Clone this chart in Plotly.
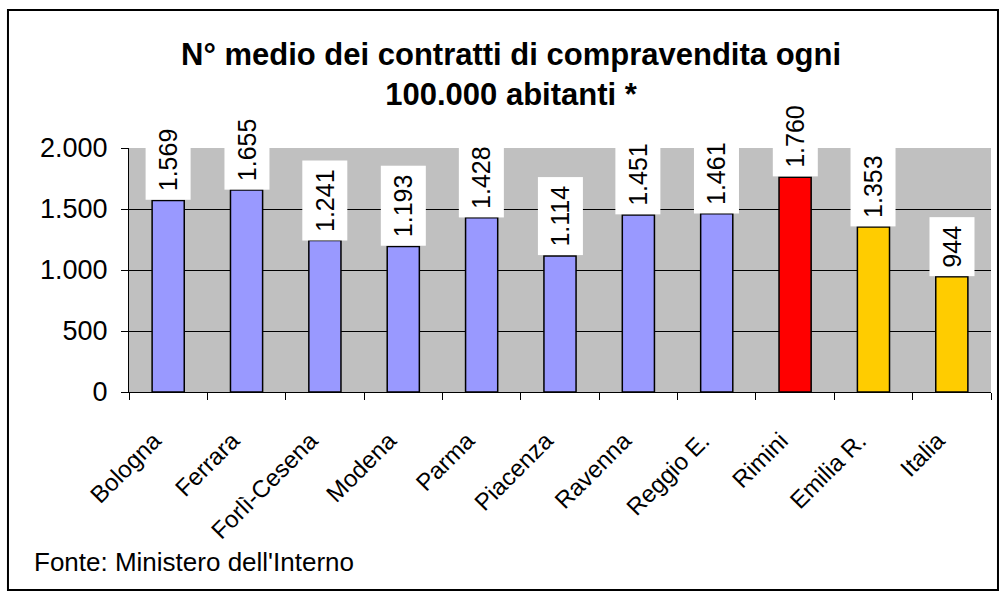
import plotly.graph_objects as go

categories = ["Bologna", "Ferrara", "Forlì-Cesena", "Modena", "Parma", "Piacenza",
              "Ravenna", "Reggio E.", "Rimini", "Emilia R.", "Italia"]
values = [1569, 1655, 1241, 1193, 1428, 1114, 1451, 1461, 1760, 1353, 944]
value_labels = ["1.569", "1.655", "1.241", "1.193", "1.428", "1.114",
                "1.451", "1.461", "1.760", "1.353", "944"]
colors = ["#9999FF"] * 8 + ["#FF0000", "#FFCC00", "#FFCC00"]
y_ticks = [0, 500, 1000, 1500, 2000]
y_tick_labels = ["0", "500", "1.000", "1.500", "2.000"]

FONT = "Liberation Sans, Arial, sans-serif"
PAD = "\u00a0" * 3  # pushes rotated category labels a little further down-left

fig = go.Figure()
fig.add_trace(go.Bar(
    x=categories, y=values, width=0.41,
    marker=dict(color=colors, line=dict(color="black", width=1.5)),
    hoverinfo="skip",
))

for c, v, lab in zip(categories, values, value_labels):
    fig.add_annotation(
        x=c, y=v, text=lab, textangle=-90, showarrow=False,
        xanchor="center", yanchor="bottom", bgcolor="white", borderpad=8,
        font=dict(family=FONT, size=25, color="black"),
    )

fig.add_annotation(
    xref="paper", yref="paper", x=-0.113, y=-0.697, xanchor="left", yanchor="middle",
    text="Fonte: Ministero dell'Interno", showarrow=False,
    font=dict(family=FONT, size=26, color="black"),
)

# outer chart border
fig.add_shape(type="rect", xref="paper", yref="paper",
              x0=-0.1404, x1=1.0081, y0=-0.8115, y1=1.5656,
              line=dict(color="black", width=2), layer="above")

fig.update_layout(
    width=1006, height=600,
    margin=dict(l=129, r=15, t=148, b=208),
    paper_bgcolor="white", plot_bgcolor="#C0C0C0",
    showlegend=False, bargap=0.59,
    font=dict(family=FONT, color="black"),
    title=dict(text="<b>N° medio dei contratti di compravendita ogni<br>100.000 abitanti *</b>",
               x=0.508, xref="container", xanchor="center",
               y=0.8925, yref="container", yanchor="middle",
               font=dict(family=FONT, size=31, color="black")),
    xaxis=dict(
        type="category", tickangle=-45, tickson="boundaries", ticks="outside",
        ticklen=7, tickcolor="black", showline=True, linecolor="black", linewidth=1,
        showgrid=False, tickfont=dict(family=FONT, size=24, color="black"),
        tickvals=categories, ticktext=[c + PAD for c in categories],
        ticklabelstandoff=10, range=[-0.5, 10.5],
    ),
    yaxis=dict(
        range=[0, 2000], tickvals=y_ticks, ticktext=y_tick_labels,
        ticks="outside", ticklen=7, tickcolor="black", showline=True, linecolor="black",
        linewidth=1, showgrid=True, gridcolor="black", gridwidth=1, zeroline=False,
        tickfont=dict(family=FONT, size=27, color="black"), ticklabelstandoff=8,
    ),
)

fig.write_html("out.html")
